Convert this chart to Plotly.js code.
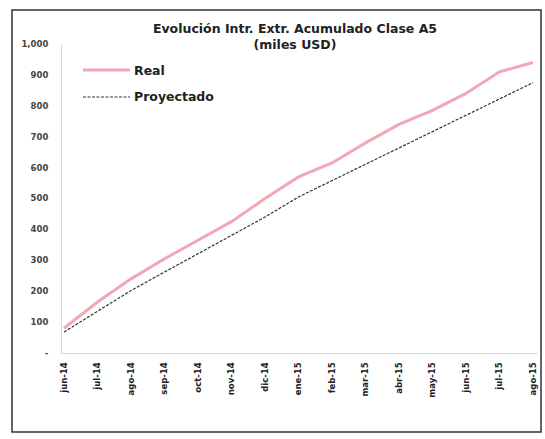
<!DOCTYPE html>
<html>
<head>
<meta charset="utf-8">
<script src="https://cdn.plot.ly/plotly-3.0.1.min.js"></script>
<style>html,body{margin:0;padding:0;background:#fff;}#chart{width:545px;height:439px;}</style>
</head>
<body>
<div id="chart"></div>
<script>
var categories = ['jun-14','jul-14','ago-14','sep-14','oct-14','nov-14','dic-14','ene-15','feb-15','mar-15','abr-15','may-15','jun-15','jul-15','ago-15'];
var real = [80, 165, 240, 305, 365, 425, 500, 570, 615, 680, 740, 785, 840, 910, 940];
var proyectado = [68, 135, 202, 262, 322, 382, 440, 505, 558, 611, 664, 717, 770, 822, 875];
var yTickVals = [0,100,200,300,400,500,600,700,800,900,1000];
var yTickText = ['-','100','200','300','400','500','600','700','800','900','1,000'];

var L = 62, R = 7, T = 44, B = 86, W = 545, H = 439;
var pw = W - L - R, ph = H - T - B;
function px(x){ return (x - L) / pw; }
function py(y){ return (H - B - y) / ph; }

var fontFam = 'DejaVu Sans, Liberation Sans, Arial, sans-serif';
function bold(s){ return '<b>' + s + '</b>'; }

var traces = [
  {x: categories, y: real, name: 'Real', type: 'scatter', mode: 'lines',
   line: {color: '#f2a7b5', width: 3}},
  {x: categories, y: proyectado, name: 'Proyectado', type: 'scatter', mode: 'lines',
   line: {color: '#333333', width: 1.2, dash: '3px,1.5px'}}
];

var layout = {
  width: W, height: H,
  margin: {l: L, r: R, t: T, b: B, pad: 0},
  paper_bgcolor: '#ffffff', plot_bgcolor: '#ffffff',
  showlegend: false,
  font: {family: fontFam, color: '#222'},
  title: {text: '<b>Evolución Intr. Extr. Acumulado Clase A5</b><br><b>(miles USD)</b>',
          font: {size: 12.5, family: fontFam, color: '#222'},
          x: 295 / W, xanchor: 'center', xref: 'container',
          y: 1 - 33 / H, yanchor: 'top', yref: 'container'},
  xaxis: {type: 'category', range: [-0.06, 14.15], showgrid: false, zeroline: false,
          showline: true, linecolor: '#d3d7e2', linewidth: 1,
          tickvals: categories, ticktext: categories.map(bold),
          ticks: '', tickangle: -90, tickfont: {size: 8.5, color: '#222', family: fontFam},
          ticklabelstandoff: 5, fixedrange: true},
  yaxis: {range: [0, 1000], showgrid: false, zeroline: false,
          showline: true, linecolor: '#d3d7e2', linewidth: 1,
          tickvals: yTickVals, ticktext: yTickText.map(bold), ticks: '',
          tickfont: {size: 8.5, color: '#444', family: fontFam},
          ticklabelstandoff: 11, fixedrange: true},
  shapes: [
    {type: 'rect', xref: 'paper', yref: 'paper', x0: px(12), x1: px(541), y0: py(432), y1: py(10),
     line: {color: '#333', width: 1.5}, fillcolor: 'rgba(0,0,0,0)'},
    {type: 'line', xref: 'paper', yref: 'paper', x0: px(83), x1: px(130), y0: py(70), y1: py(70),
     line: {color: '#f2a7b5', width: 3}},
    {type: 'line', xref: 'paper', yref: 'paper', x0: px(83), x1: px(130), y0: py(97), y1: py(97),
     line: {color: '#333333', width: 1.2, dash: '3px,1.5px'}}
  ],
  annotations: [
    {xref: 'paper', yref: 'paper', x: px(132), y: py(70), xanchor: 'left', yanchor: 'middle',
     text: '<b>Real</b>', showarrow: false, font: {size: 12.5, color: '#222', family: fontFam}},
    {xref: 'paper', yref: 'paper', x: px(132), y: py(97), xanchor: 'left', yanchor: 'middle',
     text: '<b>Proyectado</b>', showarrow: false, font: {size: 12.5, color: '#222', family: fontFam}}
  ]
};

Plotly.newPlot('chart', traces, layout, {displayModeBar: false, staticPlot: true});
</script>
</body>
</html>
